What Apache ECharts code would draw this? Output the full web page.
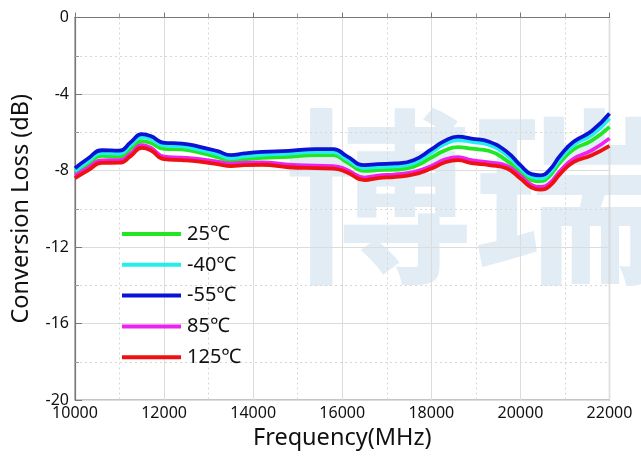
<!DOCTYPE html>
<html>
<head>
<meta charset="utf-8">
<script src="https://cdn.jsdelivr.net/npm/echarts@6/dist/echarts.min.js"></script>
<style>
  html, body { margin: 0; padding: 0; background: #fff; }
  #chart { width: 641px; height: 461px; }
</style>
</head>
<body>
<div id="chart"></div>
<script>
// Frequency sample points (MHz)
const freq = [10000, 10300, 10600, 11000, 11250, 11500, 11700, 12000, 12400, 12800,
  13200, 13500, 13800, 14200, 14800, 15400, 15800, 16100, 16500, 16800,
  17200, 17600, 18000, 18300, 18600, 18900, 19300, 19700, 20000, 20250,
  20450, 20650, 20900, 21200, 21600, 22000];

// Conversion loss (dB) per temperature
const loss25 = [-8.15, -7.65, -7.24, -7.27, -6.86, -6.47, -6.56, -6.87, -6.90, -7.07,
  -7.30, -7.50, -7.42, -7.34, -7.29, -7.20, -7.20, -7.56, -8.02, -7.98,
  -7.95, -7.80, -7.33, -6.95, -6.78, -6.86, -6.98, -7.50, -8.08, -8.50,
  -8.56, -8.30, -7.55, -6.89, -6.44, -5.72];
const lossM40 = [-8.03, -7.51, -7.09, -7.11, -6.67, -6.26, -6.35, -6.70, -6.74, -6.91,
  -7.14, -7.35, -7.26, -7.18, -7.12, -7.03, -7.04, -7.40, -7.86, -7.82,
  -7.78, -7.62, -7.06, -6.62, -6.41, -6.50, -6.67, -7.20, -7.88, -8.34,
  -8.41, -8.14, -7.37, -6.66, -6.14, -5.28];
const lossM55 = [-7.88, -7.36, -6.94, -6.96, -6.52, -6.10, -6.20, -6.55, -6.59, -6.76,
  -6.99, -7.20, -7.11, -7.03, -6.97, -6.88, -6.88, -7.25, -7.72, -7.67,
  -7.63, -7.46, -6.90, -6.45, -6.23, -6.33, -6.50, -7.03, -7.72, -8.19,
  -8.25, -7.98, -7.20, -6.49, -5.94, -5.02];
const loss85 = [-8.27, -7.85, -7.47, -7.46, -7.12, -6.68, -6.81, -7.28, -7.33, -7.41,
  -7.54, -7.64, -7.59, -7.57, -7.70, -7.75, -7.77, -7.96, -8.37, -8.27,
  -8.20, -8.08, -7.76, -7.43, -7.30, -7.46, -7.58, -7.76, -8.28, -8.75,
  -8.86, -8.68, -8.00, -7.38, -6.95, -6.32];
const loss125 = [-8.40, -7.98, -7.60, -7.59, -7.25, -6.81, -6.94, -7.41, -7.46, -7.54,
  -7.67, -7.77, -7.72, -7.70, -7.83, -7.88, -7.90, -8.09, -8.50, -8.40,
  -8.33, -8.21, -7.90, -7.58, -7.46, -7.62, -7.72, -7.90, -8.42, -8.89,
  -9.00, -8.82, -8.16, -7.55, -7.20, -6.71];

const seriesNames = ['25℃', '-40℃', '-55℃', '85℃', '125℃'];
const seriesData = [loss25, lossM40, lossM55, loss85, loss125];
const seriesColors = ['#22e622', '#22eeee', '#0a12d6', '#ee22ee', '#ee1111'];

const FONT = '"Noto Sans", "Noto Sans CJK SC", sans-serif';

const chart = echarts.init(document.getElementById('chart'), null, { renderer: 'canvas' });

chart.setOption({
  backgroundColor: '#ffffff',
  animation: false,
  graphic: {
    z: -10,
    elements: [{
      type: 'text',
      left: 284,
      top: 103,
      z: -10,
      silent: true,
      style: {
        text: '博瑞',
        font: 'bold 188px "Noto Sans CJK SC"',
        fill: '#e1ecf5'
      }
    }]
  },
  grid: {
    left: 75, right: 31.5, top: 17.5, bottom: 61,
    show: true,
    borderColor: '#8a8a8a',
    borderWidth: 1.2,
    backgroundColor: 'transparent'
  },
  legend: {
    orient: 'vertical',
    left: 117,
    top: 219,
    icon: 'rect',
    itemWidth: 59,
    itemHeight: 4,
    itemGap: 10.8,
    data: seriesNames,
    textStyle: { fontFamily: FONT, fontSize: 20, color: '#111', padding: [0, 0, 0, 1] }
  },
  xAxis: {
    type: 'value',
    min: 10000,
    max: 22000,
    interval: 2000,
    name: 'Frequency(MHz)',
    nameLocation: 'middle',
    nameGap: 27,
    nameTextStyle: { fontFamily: FONT, fontSize: 23.5, color: '#111' },
    axisLine: { show: true, lineStyle: { color: '#777', width: 1.2 } },
    axisTick: { show: true, inside: true, length: 5, lineStyle: { color: '#777' } },
    minorTick: { show: true, splitNumber: 2, length: 4, lineStyle: { color: '#999' } },
    axisLabel: { fontFamily: FONT, fontSize: 16, color: '#111', margin: 5,
      formatter: v => String(v) },
    splitLine: { show: true, lineStyle: { color: '#dcdcdc', width: 1 } },
    minorSplitLine: { show: true, lineStyle: { color: '#d6d6d6', type: [2, 3], width: 1 } }
  },
  yAxis: {
    type: 'value',
    min: -20,
    max: 0,
    interval: 4,
    name: 'Conversion Loss (dB)',
    nameLocation: 'middle',
    nameGap: 42,
    nameTextStyle: { fontFamily: FONT, fontSize: 23.5, color: '#111' },
    axisLine: { show: true, lineStyle: { color: '#777', width: 1.2 } },
    axisTick: { show: true, inside: true, length: 7, lineStyle: { color: '#777' } },
    minorTick: { show: true, splitNumber: 2, length: 4, lineStyle: { color: '#999' } },
    axisLabel: { fontFamily: FONT, fontSize: 16, color: '#111', margin: 6 },
    splitLine: { show: true, lineStyle: { color: '#dcdcdc', width: 1 } },
    minorSplitLine: { show: true, lineStyle: { color: '#d6d6d6', type: [2, 3], width: 1 } }
  },
  series: seriesNames.map((name, i) => ({
    name: name,
    type: 'line',
    smooth: 0.5,
    symbol: 'none',
    color: seriesColors[i],
    lineStyle: { width: 3.8, color: seriesColors[i] },
    data: freq.map((f, j) => [f, seriesData[i][j]]),
    z: 3 + i
  }))
});
</script>
</body>
</html>
